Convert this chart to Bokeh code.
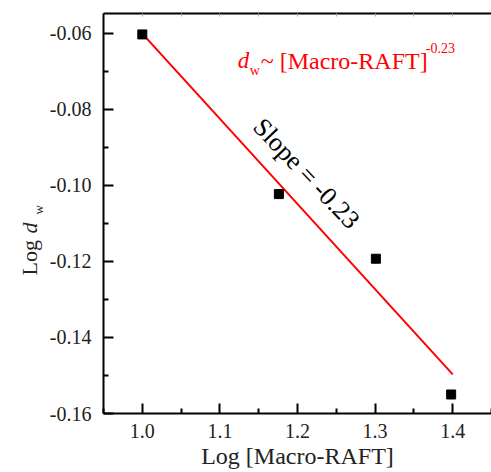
import math
from bokeh.plotting import figure
from bokeh.layouts import row
from bokeh.models import Label, LinearAxis, Range1d, FixedTicker, NumeralTickFormatter
from bokeh.core.properties import value
from bokeh.embed import file_html
from bokeh.resources import INLINE

# ---- data ----
log_raft = [1.0, 1.176, 1.301, 1.398]
log_dw = [-0.0603, -0.1023, -0.1193, -0.1550]
fit_x = [1.0, 1.4]
fit_y = [-0.0601, -0.1497]
x_ticks = [1.0, 1.1, 1.2, 1.3, 1.4]
x_minor = [0.95, 1.05, 1.15, 1.25, 1.35, 1.45]
y_ticks = [-0.16, -0.14, -0.12, -0.10, -0.08, -0.06]
y_minor = [-0.15, -0.13, -0.11, -0.09, -0.07]
x_label = "Log [Macro-RAFT]"
slope_text = "Slope = -0.23"

FONT = "Liberation Serif"
W, H = 491, 472
LW = 46  # width of the strip holding the y-axis title
X0, X1 = 0.95, 1.45
Y0, Y1 = -0.16, -0.0548
L, R, T, B = 101, 491, 13, 413


def fx(px):
    return X0 + (px - L) / (R - L) * (X1 - X0)


def fy(py):
    return Y0 + (B - py) / (B - T) * (Y1 - Y0)


# ---- left strip with the y-axis title "Log d_w" (frame spans canvas rows T..B) ----
pl = figure(width=LW, height=H, x_range=Range1d(0, LW), y_range=Range1d(H - B, H - T),
            output_backend="svg", toolbar_location=None, x_axis_type=None, y_axis_type=None,
            min_border_left=0, min_border_right=0, min_border_top=T, min_border_bottom=H - B)
pl.grid.visible = False
pl.outline_line_color = None
pl.background_fill_color = "white"
pl.border_fill_color = "white"
a = math.pi / 2
pl.text(x=[29], y=[H - 275], text=["Log"], angle=a, text_font=value(FONT),
        text_font_size="22px", text_color="#222222", text_baseline="alphabetic", text_align="left")
pl.text(x=[29], y=[H - 233], text=["d"], angle=a, text_font=value(FONT), text_font_style="italic",
        text_font_size="22px", text_color="#222222", text_baseline="alphabetic", text_align="left")
pl.text(x=[38], y=[H - 214], text=["w"], angle=a, text_font=value(FONT),
        text_font_size="13px", text_color="#222222", text_baseline="alphabetic", text_align="left")

# ---- main plot ----
p = figure(width=W - LW, height=H, x_range=Range1d(X0, X1), y_range=Range1d(Y0, Y1),
           output_backend="svg", toolbar_location=None,
           min_border_left=L - LW, min_border_right=0, min_border_top=T, min_border_bottom=H - B)
p.grid.visible = False
p.outline_line_color = None
p.background_fill_color = "white"
p.border_fill_color = "white"

p.xaxis.ticker = FixedTicker(ticks=x_ticks, minor_ticks=x_minor)
p.yaxis.ticker = FixedTicker(ticks=y_ticks, minor_ticks=y_minor)
p.xaxis.formatter = NumeralTickFormatter(format="0.0")
p.yaxis.formatter = NumeralTickFormatter(format="0.00")

for ax in (p.xaxis[0], p.yaxis[0]):
    ax.axis_line_width = 2
    ax.axis_line_color = "black"
    ax.major_tick_in = 10
    ax.major_tick_out = 0
    ax.minor_tick_in = 5
    ax.minor_tick_out = 0
    ax.major_tick_line_width = 2
    ax.minor_tick_line_width = 2
    ax.major_tick_line_color = "black"
    ax.minor_tick_line_color = "black"
    ax.major_label_text_font = FONT
    ax.major_label_text_font_size = "20px"
    ax.major_label_text_color = "#222222"

p.yaxis.major_label_standoff = 12
p.xaxis.major_label_standoff = 10
p.xaxis.axis_label = x_label
p.xaxis.axis_label_text_font = FONT
p.xaxis.axis_label_text_font_size = "24px"
p.xaxis.axis_label_text_font_style = "normal"
p.xaxis.axis_label_text_color = "#222222"
p.xaxis.axis_label_standoff = 2

top = LinearAxis(ticker=FixedTicker(ticks=x_ticks, minor_ticks=x_minor))
top.axis_line_width = 2
top.axis_line_color = "black"
top.major_tick_in = 3
top.major_tick_out = 0
top.minor_tick_in = 3
top.minor_tick_out = 0
top.major_tick_line_color = "#aaaaaa"
top.minor_tick_line_color = "#aaaaaa"
top.major_label_text_font_size = "0px"
top.major_label_text_color = None
top.major_label_standoff = 0
p.add_layout(top, "above")

# fit line and points
p.line(fit_x, fit_y, line_color="#ff0000", line_width=2)
p.scatter(log_raft, log_dw, marker="square", size=9, fill_color="black", line_color="black")

# slope annotation
p.add_layout(Label(x=fx(305), y=fy(173), text=slope_text, angle=-0.81,
                   text_align="center", text_baseline="middle",
                   text_font=FONT, text_font_size="26px", text_color="black"))

# red power-law annotation
red = "#ff0000"
p.add_layout(Label(x=fx(236), y=fy(60), text="d", text_font=FONT, text_font_style="italic",
                   text_font_size="23px", text_color=red, text_baseline="alphabetic"))
p.add_layout(Label(x=fx(248), y=fy(70), text="w", text_font=FONT,
                   text_font_size="14px", text_color=red, text_baseline="alphabetic"))
p.add_layout(Label(x=fx(259), y=fy(60), text="~ [Macro-RAFT]", text_font=FONT,
                   text_font_size="24px", text_color=red, text_baseline="alphabetic"))
p.add_layout(Label(x=fx(425), y=fy(47), text="-0.23", text_font=FONT,
                   text_font_size="14px", text_color=red, text_baseline="alphabetic"))

layout = row(pl, p, spacing=0)
open("out.html", "w").write(file_html(layout, INLINE))
